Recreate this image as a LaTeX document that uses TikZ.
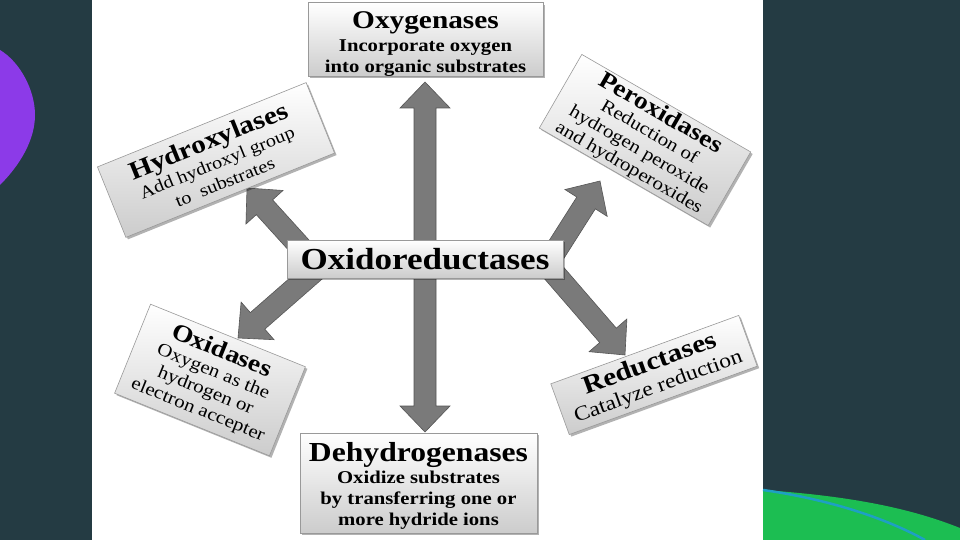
\documentclass[tikz,border=0pt]{standalone}
\usepackage{fontspec}
\setmainfont{Liberation Serif}
\newfontfamily\wf[FakeStretch=1.15]{Liberation Serif}
\usetikzlibrary{calc,shadows}
\definecolor{bgdark}{RGB}{36,59,67}
\definecolor{purp}{RGB}{140,58,232}
\definecolor{grn}{RGB}{28,190,82}
\definecolor{blu}{RGB}{30,160,196}
\definecolor{arrfill}{RGB}{122,122,122}
\definecolor{arrline}{RGB}{85,85,85}
\tikzset{
  box/.style={draw=black!40, line width=0.6pt, top color=white, middle color=black!4, bottom color=black!20,
    align=center, inner sep=0pt, font=\wf\fontsize{18}{21}\selectfont,
    drop shadow={shadow xshift=2pt, shadow yshift=-2pt, opacity=0.3, fill=black}},
  boldbox/.style={box, font=\wf\bfseries\fontsize{18}{21}\selectfont},
  fat/.style={fill=arrfill, draw=arrline, line width=0.6pt, line join=miter}
}
\newcommand\ttl[2][25.5]{{\bfseries\fontsize{#1}{27}\selectfont #2}}
% fat block arrow from coordinate #1 to tip #2
\newcommand\fatarrow[2]{%
  \coordinate (fa-h) at ($(#2)!26pt!(#1)$);
  \draw[fat] ($(#1)!11pt!90:(#2)$) -- ($(fa-h)!11pt!-90:(#1)$)
    -- ($(fa-h)!25pt!-90:(#1)$) -- (#2) -- ($(fa-h)!25pt!90:(#1)$)
    -- ($(fa-h)!11pt!90:(#1)$) -- ($(#1)!11pt!-90:(#2)$) -- cycle;
}
\begin{document}
\begin{tikzpicture}[x=1pt,y=-1pt]
\useasboundingbox (0,0) rectangle (960,540);
% background
\fill[bgdark] (0,0) rectangle (960,540);
\fill[purp] (0,50) .. controls (20,62) and (35,90) .. (35,115)
  .. controls (35,140) and (20,165) .. (0,185) -- cycle;
\fill[white] (92,0) rectangle (763,540);
\fill[grn] (763,490) .. controls (850,496) and (910,508) .. (960,528)
  -- (960,540) -- (763,540) -- cycle;
\draw[blu, line width=2.5pt] (763,490) .. controls (820,498) and (880,515) .. (925,540);

% arrow end points
\coordinate (aU0) at (425,250); \coordinate (aU1) at (425,82);
\coordinate (aD0) at (425,268); \coordinate (aD1) at (425,432);
\coordinate (aH0) at (305,252); \coordinate (aH1) at (247,188);
\coordinate (aP0) at (553,255); \coordinate (aP1) at (600,181);
\coordinate (aO0) at (318,268); \coordinate (aO1) at (238,338);
\coordinate (aR0) at (548,266); \coordinate (aR1) at (625,355);

\fatarrow{aU0}{aU1}
\fatarrow{aD0}{aD1}
\fatarrow{aH0}{aH1}
\fatarrow{aP0}{aP1}
\fatarrow{aO0}{aO1}
\fatarrow{aR0}{aR1}

% boxes
\node[boldbox, minimum width=235pt, minimum height=73pt] (oxy) at (425.5,39.5)
  {\rule{0pt}{26pt}\ttl{Oxygenases}\\[1.5pt]Incorporate oxygen\\into organic substrates};
\node[boldbox, minimum width=237pt, minimum height=100pt] (deh) at (418.5,483)
  {\rule{0pt}{25pt}\ttl[27.5]{Dehydrogenases}\\[1.5pt]Oxidize substrates\\by transferring one or\\more hydride ions};
\node[box, rotate=22, minimum width=225pt, minimum height=76pt, font=\wf\fontsize{17.6}{21}\selectfont] (hyd) at (216,160)
  {\ttl[25.5]{Hydroxylases}\\Add hydroxyl group\\to\ \ substrates};
\node[box, rotate=-30, minimum width=195pt, minimum height=85pt, font=\wf\fontsize{18.3}{20.5}\selectfont] (per) at (645,140)
  {\ttl[24]{Peroxidases}\\Reduction of\\hydrogen peroxide\\and hydroperoxides};
\node[box, rotate=-22, minimum width=167pt, minimum height=96pt, font=\wf\fontsize{18.2}{20.5}\selectfont] (oxi) at (210,380)
  {\ttl[24]{Oxidases}\\Oxygen as the\\hydrogen or\\electron accepter};
\node[box, rotate=20, minimum width=200pt, minimum height=54pt, font=\wf\fontsize{20.5}{23}\selectfont] (red) at (654,375)
  {\ttl[25.5]{Reductases}\\Catalyze reduction};
\node[box, minimum width=276pt, minimum height=38pt, font=\wf\bfseries\fontsize{30.5}{32}\selectfont] (ctr) at (425,259)
  {Oxidoreductases};
\end{tikzpicture}
\end{document}
